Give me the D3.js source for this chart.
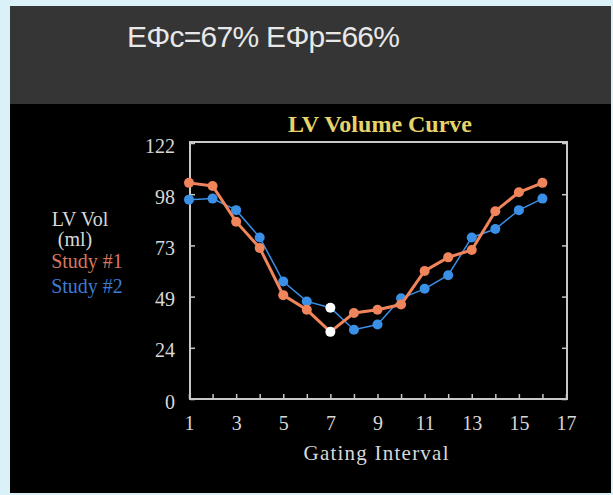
<!DOCTYPE html>
<html>
<head>
<meta charset="utf-8">
<style>
  body{ margin:0; background:#daf1f8; }
  svg{ display:block; }
</style>
<script src="https://d3js.org/d3.v7.min.js"></script>
</head>
<body>
<script>
// gating intervals and LV volumes (ml)
var intervals = [1,2,3,4,5,6,7,8,9,10,11,12,13,14,15,16];
var study1 = [103,101.5,84.5,72,49.5,42.5,32,41,42.5,45,61,67.5,71,89.5,98.5,103];
var study2 = [95,95.5,90,77,56,46.5,43.5,33,35.5,48,52.5,59,77,81,90,95.5];
var yTicks = [0,24.4,48.8,73.2,97.6,122];
var yLabels = ["0","24","49","73","98","122"];
var xTicks = d3.range(1,18);
var endSystole = 7;   // drawn white in both series

var W = 613, H = 495;
var svg = d3.select("body").append("svg").attr("width",W).attr("height",H);

// panels
svg.append("rect").attr("x",10).attr("y",6).attr("width",601).attr("height",98).attr("fill","#353535");
svg.append("rect").attr("x",10).attr("y",104).attr("width",601).attr("height",389).attr("fill","#000");

svg.append("text").attr("x",127).attr("y",47)
  .attr("font-family","Liberation Sans, Arial, sans-serif").attr("font-size",30)
  .attr("fill","#e8e8e8").attr("textLength",273)
  .text("EΦc=67% EΦp=66%");

var L = 190, R = 567, T = 142, B = 399;
var x = d3.scaleLinear().domain([1,17]).range([189,566]);
var y = d3.scaleLinear().domain([0,122]).range([B,T+1]);

var axisCol = "#c8c8c8", textCol = "#d8d8d8";
var serif = "Liberation Serif, Times New Roman, serif";

// frame
svg.append("rect").attr("x",L).attr("y",T).attr("width",R-L).attr("height",B-T)
  .attr("fill","none").attr("stroke",axisCol).attr("stroke-width",2);

var gx = svg.append("g").attr("transform","translate(0,"+B+")")
  .call(d3.axisBottom(x).tickValues(xTicks).tickSize(-5).tickPadding(17)
    .tickFormat(function(d){ return d % 2 ? d : ""; }));
var gy = svg.append("g").attr("transform","translate("+L+",0)")
  .call(d3.axisLeft(y).tickValues(yTicks).tickSize(-5).tickPadding(15)
    .tickFormat(function(d,i){ return yLabels[i]; }));
var gr = svg.append("g").attr("transform","translate("+R+",0)")
  .call(d3.axisRight(y).tickValues(yTicks).tickSize(-5).tickFormat(""));

[gx,gy,gr].forEach(function(g){
  g.select(".domain").remove();
  g.selectAll("line").attr("stroke",axisCol).attr("stroke-width",1.5);
  g.selectAll("text").attr("fill",textCol).attr("font-family",serif).attr("font-size",20);
});
gy.selectAll("text").attr("dy","0.45em");

// titles
svg.append("text").attr("x",380).attr("y",132).attr("text-anchor","middle")
  .attr("font-family",serif).attr("font-weight","bold").attr("font-size",24)
  .attr("fill","#e6d46a").text("LV Volume Curve");
svg.append("text").attr("x",376).attr("y",460).attr("text-anchor","middle")
  .attr("font-family",serif).attr("font-size",21).attr("fill",textCol)
  .attr("textLength",145).text("Gating Interval");

var leg = [["LV Vol",80,226,textCol],["(ml)",75,246,textCol],
           ["Study #1",87,268,"#d8775f"],["Study #2",87,293,"#3f7bd0"]];
leg.forEach(function(d){
  svg.append("text").attr("x",d[1]).attr("y",d[2]).attr("text-anchor","middle")
    .attr("font-family",serif).attr("font-size",20).attr("fill",d[3]).text(d[0]);
});

function drawSeries(vals, col, lw, r){
  var pts = intervals.map(function(d,i){ return [d, vals[i]]; });
  svg.append("path").datum(pts)
    .attr("d", d3.line().x(function(d){ return x(d[0]); }).y(function(d){ return y(d[1]); }))
    .attr("fill","none").attr("stroke",col).attr("stroke-width",lw);
  svg.selectAll(null).data(pts).enter().append("circle")
    .attr("cx",function(d){ return x(d[0]); }).attr("cy",function(d){ return y(d[1]); })
    .attr("r",r).attr("fill",function(d){ return d[0]==endSystole ? "#fff" : col; });
}
drawSeries(study2, "#3a8fe6", 1.5, 5);
drawSeries(study1, "#f0845a", 3, 5);
</script>
</body>
</html>
